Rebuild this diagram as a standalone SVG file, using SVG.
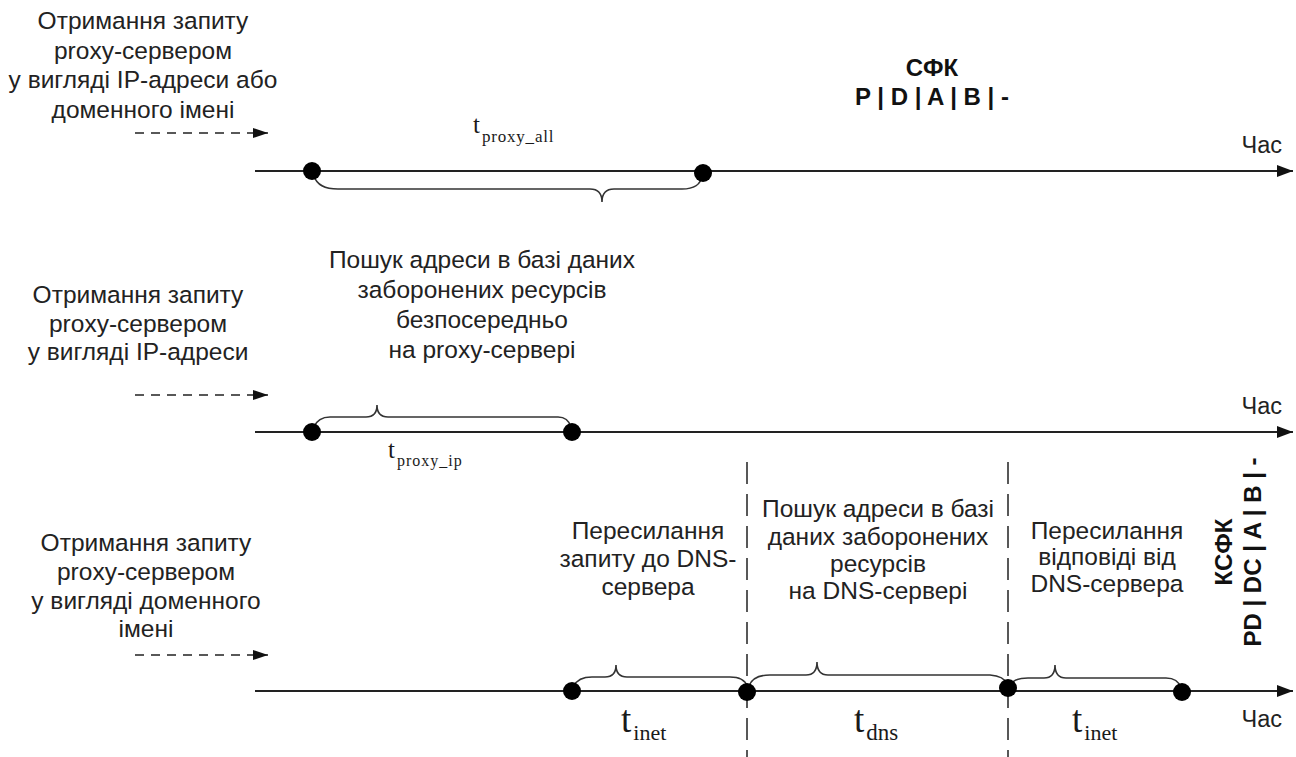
<svg xmlns="http://www.w3.org/2000/svg" width="1296" height="757" viewBox="0 0 1296 757">
<defs>
<style>
.lbl{font-family:"Liberation Sans",Arial,sans-serif;font-size:24.5px;fill:#222;text-anchor:middle}
.bold{font-family:"Liberation Sans",Arial,sans-serif;font-size:24px;font-weight:bold;fill:#111;text-anchor:middle}
.time{font-family:"Liberation Sans",Arial,sans-serif;font-size:23.5px;fill:#222;text-anchor:end}
.axis{stroke:#222;stroke-width:2;fill:none}
.dash{stroke:#222;stroke-width:1.6;fill:none;stroke-dasharray:9 7}
.vdash{stroke:#222;stroke-width:1.5;fill:none;stroke-dasharray:22 10}
.brace{stroke:#333;stroke-width:1.6;fill:none}
.dot{fill:#000}
.t{font-family:"Liberation Serif","Times New Roman",serif;fill:#1a1a1a}
</style>
<marker id="ah" markerWidth="16" markerHeight="12" refX="16" refY="6" orient="auto" markerUnits="userSpaceOnUse">
<path d="M0,0 L16,6 L0,12 Z" fill="#111"/>
</marker>
<marker id="ahs" markerWidth="15" markerHeight="10" refX="15" refY="5" orient="auto" markerUnits="userSpaceOnUse">
<path d="M0,0 L15,5 L0,10 Z" fill="#111"/>
</marker>
</defs>
<rect width="1296" height="757" fill="#fff"/>

<g id="connectors">
<line class="axis" x1="255" y1="171" x2="1293" y2="171" marker-end="url(#ah)"/>
<line class="axis" x1="255" y1="432" x2="1293" y2="432" marker-end="url(#ah)"/>
<line class="axis" x1="255" y1="691" x2="1293" y2="691" marker-end="url(#ah)"/>
<line class="dash" x1="135" y1="133" x2="268" y2="133" marker-end="url(#ahs)"/>
<line class="dash" x1="135" y1="395" x2="268" y2="395" marker-end="url(#ahs)"/>
<line class="dash" x1="135" y1="655" x2="268" y2="655" marker-end="url(#ahs)"/>
<line class="vdash" x1="747" y1="462" x2="747" y2="757"/>
<line class="vdash" x1="1008" y1="462" x2="1008" y2="757"/>
</g>

<g id="braces">
<path class="brace" d="M314,176 Q318,189 338,189 L590,189 Q602,189 602,202 Q602,189 614,189 L682,189 Q700,189 702,176"/>
<path class="brace" d="M314,427 Q318,417 330,417 L366,417 Q377,417 377,405 Q377,417 388,417 L558,417 Q568,417 571,427"/>
<path class="brace" d="M574,686 Q578,677 592,677 L605,677 Q616,677 616,665 Q616,677 627,677 L730,677 Q744,677 747,686"/>
<path class="brace" d="M749,686 Q753,675 770,675 L806,675 Q817,675 817,662 Q817,675 828,675 L990,675 Q1004,676 1007,684"/>
<path class="brace" d="M1010,685 Q1014,678 1028,678 L1044,678 Q1055,678 1055,665 Q1055,678 1066,678 L1166,678 Q1178,678 1181,688"/>
</g>

<g id="dots">
<circle class="dot" cx="312" cy="171" r="9"/>
<circle class="dot" cx="703" cy="173" r="9"/>
<circle class="dot" cx="312" cy="432" r="9"/>
<circle class="dot" cx="572" cy="432" r="9"/>
<circle class="dot" cx="572" cy="691" r="9"/>
<circle class="dot" cx="747" cy="692" r="9"/>
<circle class="dot" cx="1008" cy="688" r="9"/>
<circle class="dot" cx="1182" cy="692" r="9"/>
</g>

<g id="label-top-left">
<text class="lbl" x="143" y="29">Отримання запиту</text>
<text class="lbl" x="143" y="58.5">proxy-сервером</text>
<text class="lbl" x="143" y="88">у вигляді IP-адреси або</text>
<text class="lbl" x="143" y="117.5">доменного імені</text>
</g>

<g id="label-mid-left">
<text class="lbl" x="138" y="303">Отримання запиту</text>
<text class="lbl" x="138" y="331.5">proxy-сервером</text>
<text class="lbl" x="138" y="360">у вигляді IP-адреси</text>
</g>

<g id="label-bottom-left">
<text class="lbl" x="146" y="551">Отримання запиту</text>
<text class="lbl" x="146" y="580">proxy-сервером</text>
<text class="lbl" x="146" y="609">у вигляді доменного</text>
<text class="lbl" x="146" y="637">імені</text>
</g>

<g id="label-proxy-search">
<text class="lbl" x="482" y="268">Пошук адреси в базі даних</text>
<text class="lbl" x="482" y="298">заборонених ресурсів</text>
<text class="lbl" x="482" y="328">безпосередньо</text>
<text class="lbl" x="482" y="358">на proxy-сервері</text>
</g>

<g id="label-forward-query">
<text class="lbl" x="648" y="539">Пересилання</text>
<text class="lbl" x="648" y="567">запиту до DNS-</text>
<text class="lbl" x="648" y="595">сервера</text>
</g>

<g id="label-dns-search">
<text class="lbl" x="878" y="517">Пошук адреси в базі</text>
<text class="lbl" x="878" y="545">даних заборонених</text>
<text class="lbl" x="878" y="572">ресурсів</text>
<text class="lbl" x="878" y="599">на DNS-сервері</text>
</g>

<g id="label-forward-answer">
<text class="lbl" x="1107" y="539">Пересилання</text>
<text class="lbl" x="1107" y="565">відповіді від</text>
<text class="lbl" x="1107" y="592">DNS-сервера</text>
</g>

<g id="label-sfk">
<text class="bold" x="932" y="76">СФК</text>
<text class="bold" x="932" y="105">P | D | A | B | -</text>
</g>

<g id="label-ksfk">
<text class="bold" transform="translate(1232,552) rotate(-90)" x="0" y="0">КСФК</text>
<text class="bold" transform="translate(1261,552) rotate(-90)" x="0" y="0">PD | DC | A | B | -</text>
</g>

<g id="time-labels">
<text class="time" x="1282" y="153">Час</text>
<text class="time" x="1282" y="414">Час</text>
<text class="time" x="1282" y="727">Час</text>
</g>

<g id="t-labels">
<text class="t" x="473" y="133" font-size="25">t<tspan font-size="17" letter-spacing="0.8" dx="2" dy="9">proxy_all</tspan></text>
<text class="t" x="388" y="458" font-size="25">t<tspan font-size="16" letter-spacing="1" dx="2" dy="8">proxy_ip</tspan></text>
<text class="t" x="621" y="732" font-size="37">t<tspan font-size="22" dx="2" dy="8">inet</tspan></text>
<text class="t" x="854" y="732" font-size="37">t<tspan font-size="23" dx="2" dy="8">dns</tspan></text>
<text class="t" x="1072" y="732" font-size="37">t<tspan font-size="22" dx="2" dy="8">inet</tspan></text>
</g>
</svg>
